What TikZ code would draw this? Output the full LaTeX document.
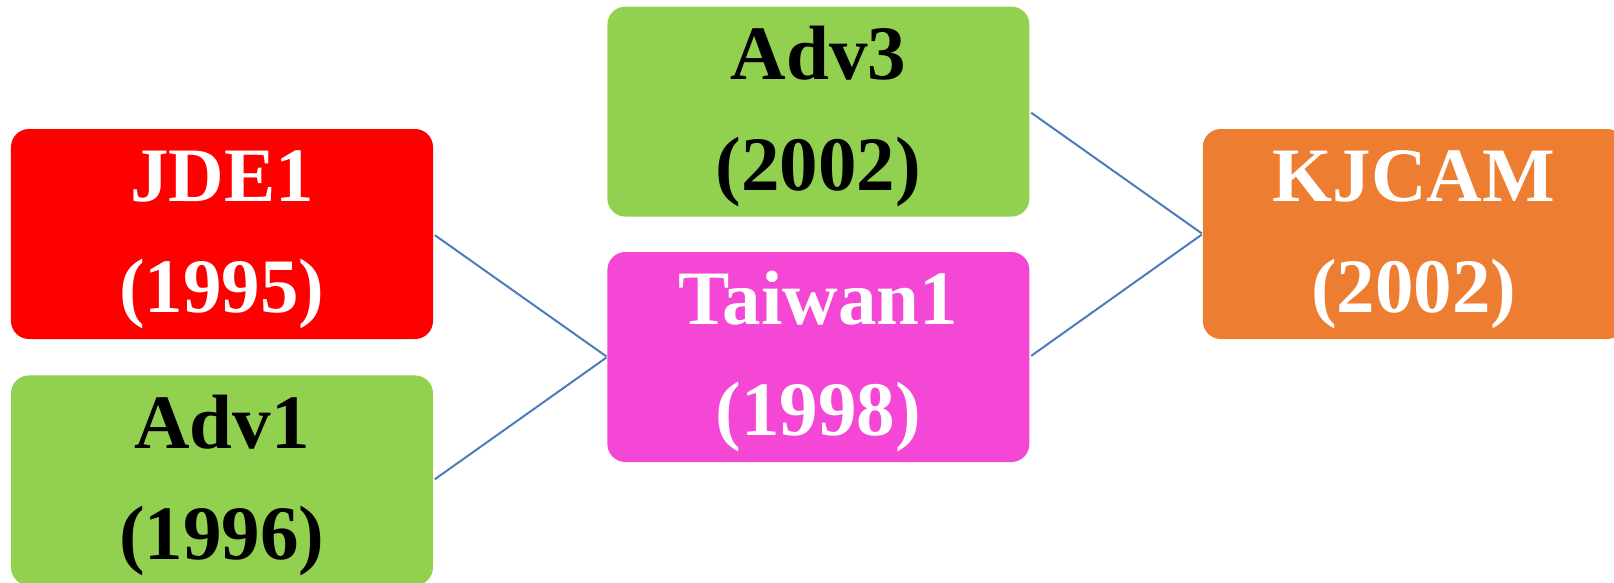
\documentclass[tikz,border=0pt]{standalone}
\usepackage{fontspec}
\setmainfont{Liberation Serif}
\usepackage{tikz}
\usetikzlibrary{positioning}
\definecolor{jdered}{HTML}{FF0000}
\definecolor{advgreen}{HTML}{92D050}
\definecolor{twpink}{HTML}{F547D5}
\definecolor{kjorange}{HTML}{ED7D31}
\definecolor{linkblue}{HTML}{4A7EBB}
\tikzstyle{card} = [rectangle, rounded corners=18pt, minimum width=422pt,
    minimum height=210pt, inner sep=0pt, text centered,
    font=\fontsize{77}{111}\selectfont\bfseries]
\tikzstyle{link} = [draw, color=linkblue, line width=2pt, shorten <=2pt, shorten >=1pt]
\newcommand{\hstrut}{\rule{0pt}{63pt}}

\begin{document}
\begin{tikzpicture}[align=center]
    \useasboundingbox (-222pt,-348pt) rectangle (1392pt,234pt);
    % Place nodes
    \node [card, fill=jdered, text=white] (jde) {\hstrut JDE1\\(1995)};
    \node [card, fill=advgreen, below=36pt of jde] (adv1) {\hstrut Adv1\\(1996)};
    \node [card, fill=twpink, text=white, right=174pt of jde, yshift=-123pt] (tw) {\hstrut Taiwan1\\(1998)};
    \node [card, fill=advgreen, above=35pt of tw] (adv3) {\hstrut Adv3\\(2002)};
    \node [card, fill=kjorange, text=white, right=173pt of tw, yshift=123pt] (kjcam) {\hstrut KJCAM\\(2002)};
    % Draw edges
    \path [link] (jde.east) -- (tw.west);
    \path [link] (adv1.east) -- (tw.west);
    \path [link] (adv3.east) -- (kjcam.west);
    \path [link] (tw.east) -- (kjcam.west);
\end{tikzpicture}
\end{document}
